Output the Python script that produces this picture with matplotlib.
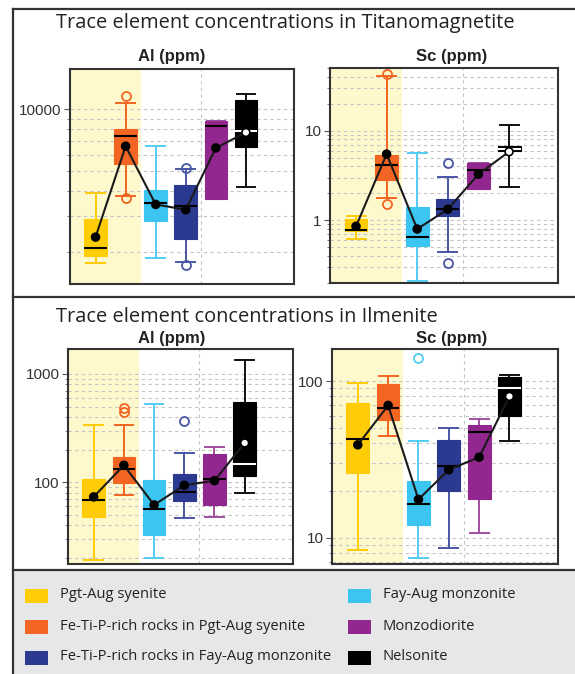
import matplotlib
matplotlib.use('Agg')
import matplotlib.pyplot as plt
import matplotlib.lines as mlines
import matplotlib.patches as mpatches
from matplotlib.ticker import LogLocator, NullFormatter

W, H = 575, 674

GROUPS = ['Pgt-Aug syenite', 'Fe-Ti-P-rich rocks in Pgt-Aug syenite', 'Fay-Aug monzonite',
          'Fe-Ti-P-rich rocks in Fay-Aug monzonite', 'Monzodiorite', 'Nelsonite']
POSITIONS = [1, 2, 3, 4, 5, 6]

# Titanomagnetite, Al (ppm)
TM_AL_WLO = [1763, 3775, 1867, 1783, 3648, 4170]
TM_AL_Q1 = [1915, 5423, 2826, 2323, 3648, 6533]
TM_AL_MED = [2095, 7394, 3475, 3372, 8340, 7854]
TM_AL_Q3 = [2910, 8036, 4010, 4277, 8796, 11070]
TM_AL_WHI = [3890, 10700, 6603, 5100, 8796, 11895]
TM_AL_MEAN = [2365, 6603, 3422, 3222, 6475, 7710]
TM_AL_FLIERS = [[], [11630, 3665], [], [5180, 1735], [], []]

# Titanomagnetite, Sc (ppm)
TM_SC_WLO = [0.613, 1.79, 0.21, 0.438, 2.24, 2.34]
TM_SC_Q1 = [0.76, 2.80, 0.512, 1.11, 2.24, 5.87]
TM_SC_MED = [0.773, 4.09, 0.65, 1.35, 3.60, 6.29]
TM_SC_Q3 = [1.04, 5.39, 1.41, 1.73, 4.38, 6.74]
TM_SC_WHI = [1.11, 40.2, 5.67, 3.06, 4.38, 11.6]
TM_SC_MEAN = [0.857, 5.48, 0.80, 1.33, 3.27, 5.82]
TM_SC_FLIERS = [[], [43, 1.54], [], [4.31, 0.333], [], []]

# Ilmenite, Al (ppm)
IL_AL_WLO = [19.3, 75.8, 20.2, 47.2, 48.2, 80.3]
IL_AL_Q1 = [47.5, 99.3, 32.9, 67.8, 62.2, 113.6]
IL_AL_MED = [69.2, 132.7, 57.2, 81.4, 108, 147.6]
IL_AL_Q3 = [106.6, 172.6, 104.6, 119.4, 182.6, 547]
IL_AL_WHI = [338, 336, 528, 185, 213, 1356]
IL_AL_MEAN = [73.3, 143.6, 61.8, 93.8, 103.5, 230.8]
IL_AL_FLIERS = [[], [485, 443], [], [366], [], []]

# Ilmenite, Sc (ppm)
IL_SC_WLO = [8.43, 44.6, 7.42, 8.67, 10.8, 41.2]
IL_SC_Q1 = [26.0, 56.4, 12.0, 19.8, 17.8, 59.8]
IL_SC_MED = [43.0, 67.2, 16.5, 28.7, 47.2, 90.7]
IL_SC_Q3 = [72.8, 95.7, 23.0, 41.8, 52.1, 105.5]
IL_SC_WHI = [96.6, 107, 41.6, 50.4, 57.5, 109]
IL_SC_MEAN = [39.2, 69.9, 17.6, 27.2, 32.7, 79.8]
IL_SC_FLIERS = [[], [], [139.6], [], [], []]

BOX_COLORS = ['#FFCC05', '#F26522', '#3BC5F0', '#2B3990', '#92278F', '#000000']
LINE_COLORS = ['#FFCC05', '#F26522', '#52CDF3', '#4A55A5', '#A04FA0', '#111111']
SHADE = '#FEF8CD'
FRAME = '#333333'

fig = plt.figure(figsize=(W / 100, H / 100), dpi=100)


def px_rect(x0, y0, x1, y1):
    return [x0 / W, 1 - y1 / H, (x1 - x0) / W, (y1 - y0) / H]


def draw_panel(rect, wlo, q1, med, q3, whi, mean, fliers, ylim, yticks):
    ax = fig.add_axes(px_rect(*rect))
    stats = [dict(whislo=a, q1=b, med=c, q3=d, whishi=e, fliers=f)
             for a, b, c, d, e, f in zip(wlo, q1, med, q3, whi, fliers)]
    bp = ax.bxp(stats, positions=POSITIONS, widths=0.75, capwidths=0.62,
                patch_artist=True, manage_ticks=False)
    for i, (bc, lc) in enumerate(zip(BOX_COLORS, LINE_COLORS)):
        bp['boxes'][i].set(facecolor=bc, edgecolor=bc, linewidth=0.8, zorder=3)
        for ln in bp['whiskers'][2 * i:2 * i + 2] + bp['caps'][2 * i:2 * i + 2]:
            ln.set(color=lc, linewidth=1.4, zorder=2.5)
        bp['fliers'][i].set(marker='o', markerfacecolor='none', markeredgecolor=lc,
                            markersize=6.5, markeredgewidth=1.3)
        bp['medians'][i].set(color='white' if i == 5 else 'black', linewidth=1.5, zorder=4)

    # means joined by a line, white marker on the black box
    ax.plot(POSITIONS, mean, color='#1a1a1a', lw=1.5, zorder=5)
    faces = ['black'] * 5 + ['white']
    ax.scatter(POSITIONS, mean, s=32, c=faces, edgecolors='black', linewidths=1.2, zorder=6)

    ax.set_yscale('log')
    ax.set_xlim(0.15, 7.6)
    ax.set_ylim(*ylim)
    ax.axvspan(0.15, 2.5, color=SHADE, zorder=0, lw=0)
    ax.axvline(4.5, color='#C4C4C4', ls=(0, (3, 3)), lw=0.8, zorder=0.6)
    ax.set_axisbelow(True)
    ax.yaxis.grid(True, which='both', color='#C4C4C4', ls=(0, (3, 3)), lw=0.8)

    ax.set_yticks(yticks)
    ax.set_yticklabels([str(t) for t in yticks])
    ax.yaxis.set_minor_locator(LogLocator(base=10, subs=range(2, 10)))
    ax.yaxis.set_minor_formatter(NullFormatter())
    ax.set_xticks([])
    ax.tick_params(axis='y', which='major', length=4, width=0.8, color='#555555',
                   labelsize=11, labelcolor='#333333', pad=2)
    ax.tick_params(axis='y', which='minor', length=2.5, width=0.7, color='#777777')
    for lab in ax.get_yticklabels():
        lab.set_family('Liberation Sans')
    for sp in ax.spines.values():
        sp.set(color=FRAME, linewidth=1.5)
    return ax


draw_panel((70, 69, 294, 284), TM_AL_WLO, TM_AL_Q1, TM_AL_MED, TM_AL_Q3, TM_AL_WHI,
           TM_AL_MEAN, TM_AL_FLIERS, (1393, 15790), [10000])
draw_panel((330, 68, 558, 283), TM_SC_WLO, TM_SC_Q1, TM_SC_MED, TM_SC_Q3, TM_SC_WHI,
           TM_SC_MEAN, TM_SC_FLIERS, (0.2, 50), [1, 10])
draw_panel((68, 349, 293, 564), IL_AL_WLO, IL_AL_Q1, IL_AL_MED, IL_AL_Q3, IL_AL_WHI,
           IL_AL_MEAN, IL_AL_FLIERS, (17.6, 1700), [100, 1000])
draw_panel((332, 349, 558, 564), IL_SC_WLO, IL_SC_Q1, IL_SC_MED, IL_SC_Q3, IL_SC_WHI,
           IL_SC_MEAN, IL_SC_FLIERS, (6.82, 160), [10, 100])

# section titles and element labels
title_kw = dict(fontsize=14.4, family='Open Sans', color='#222222', va='center', ha='left')
fig.text(56 / W, 1 - 23 / H, 'Trace element concentrations in Titanomagnetite', **title_kw)
fig.text(56 / W, 1 - 317 / H, 'Trace element concentrations in Ilmenite', **title_kw)
sub_kw = dict(fontsize=12, family='Liberation Sans', weight='bold', color='#222222',
              va='center', ha='center')
for cx, cy, txt in [(172, 57, 'Al (ppm)'), (452, 57, 'Sc (ppm)'),
                    (172, 338, 'Al (ppm)'), (452, 338, 'Sc (ppm)')]:
    fig.text(cx / W, 1 - cy / H, txt, **sub_kw)

# legend box at the bottom
fig.add_artist(mpatches.Rectangle((13 / W, 0), 1 - 13 / W, 1 - 570 / H,
                                  transform=fig.transFigure, facecolor='#E6E7E8',
                                  edgecolor='none', zorder=0))
for y in (9, 297, 570):
    fig.add_artist(mlines.Line2D([13 / W, 1], [1 - y / H] * 2, color=FRAME, lw=1.6))
fig.add_artist(mlines.Line2D([13 / W] * 2, [0, 1 - 9 / H], color=FRAME, lw=1.6))

legend_order = [0, 1, 3, 2, 4, 5]
for k, gi in enumerate(legend_order):
    col, row = divmod(k, 3)
    x0 = 25 if col == 0 else 348
    yc = 596 + row * 31
    fig.add_artist(mpatches.Rectangle((x0 / W, 1 - (yc + 7) / H), 23 / W, 14 / H,
                                      transform=fig.transFigure, facecolor=BOX_COLORS[gi],
                                      edgecolor='none'))
    fig.text((x0 + 35) / W, 1 - (yc - 1) / H, GROUPS[gi], fontsize=10.6, family='Open Sans',
             color='#222222', va='center', ha='left')

fig.savefig('out.png', dpi=100)
